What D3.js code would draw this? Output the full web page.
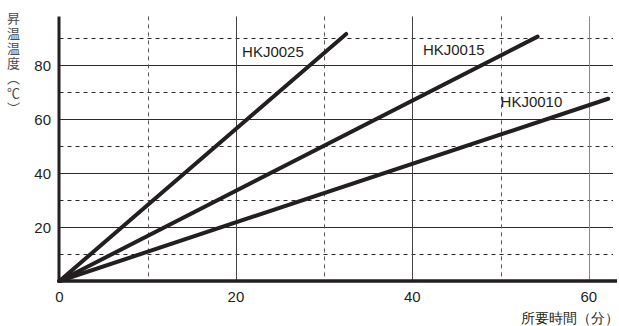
<!DOCTYPE html>
<html>
<head>
<meta charset="utf-8">
<script src="https://cdn.jsdelivr.net/npm/d3@7"></script>
<style>
  html, body { margin: 0; padding: 0; background: #fff; }
  #wrap { position: relative; width: 619px; height: 326px; }
  svg { display: block; }
  text { font-family: "Liberation Sans", Arial, sans-serif; fill: #231f20; }
  .ytitle {
    position: absolute; left: 6px; top: 12px;
    writing-mode: vertical-rl; text-orientation: mixed;
    font-family: "Noto Sans CJK JP", sans-serif; font-size: 13px;
    line-height: 14px; letter-spacing: 2px; color: #4a4a4a; white-space: nowrap;
  }
</style>
</head>
<body>
<div id="wrap"><svg id="chart" width="619" height="326"></svg></div>
<script>
// ---- data ----
const seriesNames = ["HKJ0025", "HKJ0015", "HKJ0010"];
const seriesTime = [[0, 32.5], [0, 54.2], [0, 62.2]];   // minutes
const seriesTemp = [[0, 91.5], [0, 90.5], [0, 67.5]];   // °C
const labelPos = [[20.7, 83], [41.2, 83.8], [50, 64.5]]; // label anchor in data units
const xTicks = [0, 20, 40, 60];
const xMinor = [10, 30, 50];
const yTicks = [20, 40, 60, 80];
const yMinor = [10, 30, 50, 70, 90];
const yTitle = "昇温温度（℃）";
const xTitle = "所要時間（分）";

// ---- layout ----
const svg = d3.select("#chart");
const x = d3.scaleLinear().domain([0, 63.2]).range([59.5, 617]);
const y = d3.scaleLinear().domain([0, 98]).range([281, 16.4]);
const gridRight = 613;
const ink = "#231f20";
const crisp = v => Math.round(v) + 0.5;

// horizontal grid
svg.append("g").selectAll("line").data(yTicks).join("line")
  .attr("x1", x(0)).attr("x2", gridRight)
  .attr("y1", d => crisp(y(d))).attr("y2", d => crisp(y(d)))
  .attr("stroke", "#2a2a2a").attr("stroke-width", 1);
svg.append("g").selectAll("line").data(yMinor).join("line")
  .attr("x1", x(0)).attr("x2", gridRight)
  .attr("y1", d => crisp(y(d))).attr("y2", d => crisp(y(d)))
  .attr("stroke", "#2a2a2a").attr("stroke-width", 1).attr("stroke-dasharray", "4,4");

// vertical grid
svg.append("g").selectAll("line").data(xTicks.filter(d => d > 0)).join("line")
  .attr("x1", d => crisp(x(d))).attr("x2", d => crisp(x(d)))
  .attr("y1", y(98)).attr("y2", y(0))
  .attr("stroke", d => d === 60 ? "#888" : "#444").attr("stroke-width", 1);
svg.append("g").selectAll("line").data(xMinor).join("line")
  .attr("x1", d => crisp(x(d))).attr("x2", d => crisp(x(d)))
  .attr("y1", y(98)).attr("y2", y(0))
  .attr("stroke", "#555").attr("stroke-width", 1).attr("stroke-dasharray", "4,4");

// axes (thick)
svg.append("line").attr("x1", x(0) - 0.5).attr("x2", x(0) - 0.5).attr("y1", y(98)).attr("y2", y(0) + 1.5)
  .attr("stroke", ink).attr("stroke-width", 3);
svg.append("line").attr("x1", x(0) - 2).attr("x2", x(63.2)).attr("y1", y(0)).attr("y2", y(0))
  .attr("stroke", ink).attr("stroke-width", 3.5);

// tick labels
svg.append("g").selectAll("text").data(xTicks).join("text")
  .attr("x", d => x(d)).attr("y", 302)
  .attr("text-anchor", "middle").attr("font-size", 15).text(d => d);
svg.append("g").selectAll("text").data(yTicks).join("text")
  .attr("x", 51).attr("y", d => y(d) + 5.5)
  .attr("text-anchor", "end").attr("font-size", 15).text(d => d);

// series lines
const line = d3.line().x(d => x(d[0])).y(d => y(d[1]));
seriesNames.forEach((name, i) => {
  const pts = seriesTime[i].map((t, j) => [t, seriesTemp[i][j]]);
  svg.append("path").datum(pts).attr("d", line)
    .attr("fill", "none").attr("stroke", ink).attr("stroke-width", 4)
    .attr("stroke-linecap", "round");
  svg.append("text").attr("x", x(labelPos[i][0])).attr("y", y(labelPos[i][1]))
    .attr("font-size", 15).attr("fill", "#333").text(name);
});

// y title (vertical writing, HTML overlay)
d3.select("#wrap").append("div").attr("class", "ytitle").text(yTitle);

// x title
svg.append("text").attr("x", 619).attr("y", 323).attr("text-anchor", "end")
  .attr("font-family", "'Noto Sans CJK JP', sans-serif")
  .attr("fill", "#333")
  .attr("font-size", 14).text(xTitle);
</script>
</body>
</html>
